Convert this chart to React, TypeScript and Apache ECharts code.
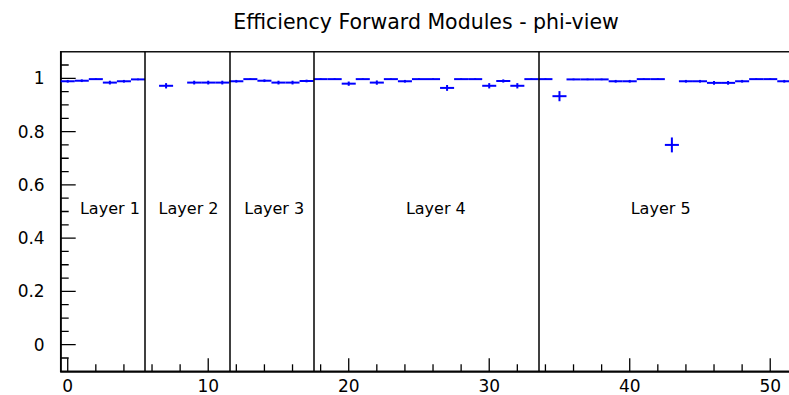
import React, { useEffect, useRef } from "react";
import * as echarts from "echarts";

const modules = [
  0, 1, 2, 3, 4, 5, 6, 7, 8, 9, 10, 11, 12, 13, 14, 15, 16, 17, 18, 19, 20, 21, 22, 23, 24, 25,
  26, 27, 28, 29, 30, 31, 32, 33, 34, 35, 36, 37, 38, 39, 40, 41, 42, 43, 44, 45, 46, 47, 48, 49, 50, 51,
];
const efficiency: (number | null)[] = [
  0.989, 0.991, 0.997, 0.984, 0.989, 0.996,
  null, 0.972, null, 0.984, 0.984, 0.984,
  0.989, 0.997, 0.991, 0.984, 0.984, 0.99,
  0.997, 0.997, 0.98, 0.997, 0.984, 0.997, 0.989, 0.997, 0.997, 0.964, 0.997, 0.997, 0.972, 0.99, 0.972, 0.997,
  0.997, 0.933, 0.996, 0.996, 0.996, 0.989, 0.989, 0.997, 0.997, 0.75, 0.989, 0.989, 0.983, 0.983, 0.989, 0.997, 0.997, 0.989,
];
const errors: (number | null)[] = [
  0.005, 0.005, 0.003, 0.007, 0.005, 0.003,
  null, 0.01, null, 0.007, 0.007, 0.007,
  0.005, 0.003, 0.005, 0.007, 0.007, 0.005,
  0.003, 0.003, 0.008, 0.003, 0.008, 0.003, 0.005, 0.003, 0.003, 0.011, 0.003, 0.003, 0.01, 0.006, 0.01, 0.003,
  0.003, 0.019, 0.003, 0.003, 0.003, 0.005, 0.005, 0.003, 0.003, 0.028, 0.005, 0.005, 0.007, 0.007, 0.005, 0.003, 0.003, 0.005,
];
const binHalfWidth = 0.5;
const separators = [5.5, 11.5, 17.5, 33.5];
const layerNames = ["Layer 1", "Layer 2", "Layer 3", "Layer 4", "Layer 5"];
const layerLabelX = [3.0, 8.6, 14.7, 26.2, 42.2];
const layerLabelY = 0.51;
const xMajorTicks = [0, 10, 20, 30, 40, 50];
const xMinorTicks = [2, 4, 6, 8, 12, 14, 16, 18, 22, 24, 26, 28, 32, 34, 36, 38, 42, 44, 46, 48];
const yMajorTicks = [0, 0.2, 0.4, 0.6, 0.8, 1];
const yMinorTicks = [-0.05, 0.05, 0.1, 0.15, 0.25, 0.3, 0.35, 0.45, 0.5, 0.55, 0.65, 0.7, 0.75, 0.85, 0.9, 0.95, 1.05];
const title = "Efficiency Forward Modules - phi-view";

const FONT = "DejaVu Sans";

export default function App() {
  const ref = useRef<HTMLDivElement>(null);
  useEffect(() => {
    document.body.style.margin = "0";
    if (!ref.current) return;
    const chart = echarts.init(ref.current, undefined, { renderer: "svg" });
    const points = modules
      .map((m, i) => (efficiency[i] == null ? null : [m, efficiency[i], errors[i]]))
      .filter((d) => d !== null) as number[][];
    const labels = layerNames.map((n, i) => [layerLabelX[i], layerLabelY, n]);
    const xMin = -0.5;
    const xMax = 51.5;
    const yMin = -0.1;
    const yMax = 1.1;
    const blue = "#0000ff";
    const yTickData = [
      ...yMajorTicks.map((v) => ({ value: [xMin, v], len: 15 })),
      ...yMinorTicks.map((v) => ({ value: [xMin, v], len: 8 })),
    ];
    const titleGraphic = {
      type: "text",
      id: "title",
      x: 426,
      y: 22,
      style: {
        text: title,
        fill: "#000",
        font: `20.5px "${FONT}"`,
        textAlign: "center",
        textVerticalAlign: "middle",
      },
    };
    chart.setOption({
      animation: false,
      backgroundColor: "#ffffff",
      graphic: [titleGraphic],
      grid: {
        left: 60.7,
        top: 51.7,
        width: 730.6,
        height: 319.6,
        outerBoundsMode: "none",
        containLabel: false,
        show: true,
        borderColor: "#111",
        borderWidth: 1.5,
        backgroundColor: "transparent",
      },
      xAxis: {
        type: "value",
        min: xMin,
        max: xMax,
        position: "bottom",
        axisLine: { show: true, onZero: false, lineStyle: { color: "#000", width: 1.5 } },
        axisTick: { show: false },
        axisLabel: { customValues: xMajorTicks, color: "#000", fontSize: 17, fontFamily: FONT, margin: 6 },
        splitLine: { show: false },
      },
      yAxis: {
        type: "value",
        min: yMin,
        max: yMax,
        position: "left",
        axisLine: { show: true, onZero: false, lineStyle: { color: "#000", width: 1.5 } },
        axisTick: { show: false },
        axisLabel: { customValues: yMajorTicks, color: "#000", fontSize: 17, fontFamily: FONT, margin: 16 },
        splitLine: { show: false },
      },
      series: [
        {
          type: "custom",
          data: yTickData,
          clip: false,
          silent: true,
          z: 5,
          renderItem: (params: any, api: any) => {
            const p = api.coord([api.value(0), api.value(1)]);
            const len = yTickData[params.dataIndex].len;
            return { type: "rect", shape: { x: p[0], y: p[1] - 0.65, width: len, height: 1.3 }, style: { fill: "#000" } };
          },
        },
        {
          type: "custom",
          data: points,
          clip: false,
          renderItem: (params: any, api: any) => {
            const x = api.value(0);
            const y = api.value(1);
            const e = api.value(2);
            const l = api.coord([x - binHalfWidth, y]);
            const r = api.coord([x + binHalfWidth, y]);
            const t = api.coord([x, y + e]);
            const b = api.coord([x, y - e]);
            const style = { stroke: blue, lineWidth: 2 };
            return {
              type: "group",
              children: [
                { type: "line", shape: { x1: l[0], y1: l[1], x2: r[0], y2: r[1] }, style },
                { type: "line", shape: { x1: t[0], y1: t[1], x2: b[0], y2: b[1] }, style },
              ],
            };
          },
          markLine: {
            silent: true,
            symbol: ["none", "none"],
            label: { show: false },
            lineStyle: { color: "#000", type: "solid", width: 1.5 },
            data: separators.map((s) => ({ xAxis: s })),
          },
        },
        {
          type: "custom",
          data: labels,
          renderItem: (params: any, api: any) => {
            const p = api.coord([api.value(0), api.value(1)]);
            return {
              type: "text",
              x: p[0],
              y: p[1],
              style: {
                text: labels[params.dataIndex][2],
                fill: "#000",
                font: `16px "${FONT}"`,
                textAlign: "center",
                textVerticalAlign: "middle",
              },
            };
          },
        },
      ],
    });
    // x-axis ticks: positions taken from the chart's own x scale
    const tickGraphics: any[] = [];
    const addTick = (v: number, len: number, i: string) => {
      const p = chart.convertToPixel({ gridIndex: 0 }, [v, yMin]) as number[];
      if (!p) return;
      tickGraphics.push({
        type: "rect",
        id: "xt" + i,
        z: 100,
        silent: true,
        shape: { x: p[0] - 0.65, y: p[1] - len, width: 1.3, height: len },
        style: { fill: "#000" },
      });
    };
    xMajorTicks.forEach((v, i) => addTick(v, 13, "M" + i));
    xMinorTicks.forEach((v, i) => addTick(v, 7, "m" + i));
    chart.setOption({ graphic: [titleGraphic, ...tickGraphics] });
    return () => chart.dispose();
  }, []);
  return <div ref={ref} style={{ width: 789, height: 395 }} />;
}
